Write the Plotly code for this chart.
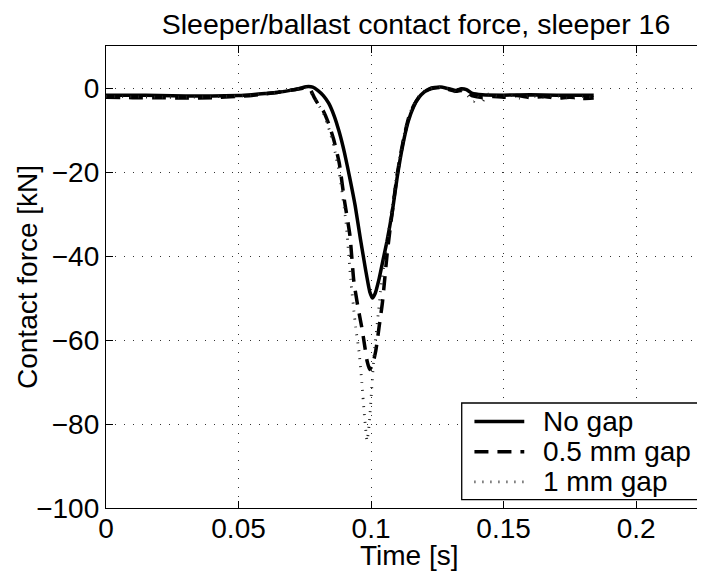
import plotly.graph_objects as go

# ---- data ----
t_nogap = [0, 0.01, 0.02, 0.03, 0.04, 0.05, 0.055, 0.06, 0.065, 0.07, 0.073, 0.0755, 0.078,
           0.080, 0.082, 0.084, 0.086, 0.088, 0.090, 0.092, 0.094, 0.096, 0.098, 0.0995,
           0.1005, 0.1015, 0.103, 0.1045, 0.106, 0.108, 0.1098, 0.112, 0.114, 0.116, 0.118,
           0.120, 0.122, 0.124, 0.127, 0.130, 0.132, 0.134, 0.136, 0.138, 0.142, 0.15, 0.16,
           0.17, 0.18, 0.184]
f_nogap = [-1.7, -1.7, -1.8, -1.9, -1.9, -1.8, -1.6, -1.3, -1.0, -0.5, -0.1, 0.3, 0.2,
           -0.6, -1.8, -3.6, -6.5, -10.5, -15.5, -21.5, -28, -36, -43.5, -48.5,
           -50, -49, -45.5, -41, -36.5, -29.5, -21.5, -13.5, -8, -4.5, -2.3,
           -1.0, -0.2, 0.1, 0.2, -0.3, -0.6, -0.2, -0.4, -1.2, -1.6, -1.7, -1.6,
           -1.7, -1.7, -1.7]

t_gap05 = [0, 0.01, 0.02, 0.03, 0.04, 0.05, 0.055, 0.06, 0.065, 0.07, 0.073, 0.0755, 0.077,
           0.0786, 0.080, 0.082, 0.084, 0.086, 0.088, 0.090, 0.092, 0.0935, 0.095, 0.0965,
           0.0975, 0.0985, 0.0995, 0.1005, 0.1018, 0.103, 0.1043, 0.1061, 0.108, 0.110,
           0.112, 0.114, 0.116, 0.118, 0.120, 0.122, 0.124, 0.127, 0.130, 0.132, 0.135,
           0.138, 0.142, 0.146, 0.15, 0.155, 0.16, 0.165, 0.17, 0.175, 0.18, 0.184]
f_gap05 = [-2.2, -2.3, -2.3, -2.4, -2.3, -2.0, -1.8, -1.4, -1.0, -0.5, -0.2, 0.1, -0.3,
           -2.3, -3.8, -5.5, -8.5, -12.5, -17.9, -27, -35, -46, -52, -57,
           -61, -65, -67, -66, -62.5, -57, -51, -39.3, -29.4, -20,
           -13, -7.5, -4.3, -2.2, -1.0, -0.3, 0.0, 0.1, -0.5, -0.8, -0.5,
           -1.8, -2.3, -2.0, -2.2, -1.8, -2.3, -2.0, -2.4, -2.2, -2.5, -2.4]

t_gap1 = [0, 0.01, 0.02, 0.03, 0.04, 0.05, 0.055, 0.06, 0.065, 0.07, 0.073, 0.0755, 0.077,
          0.078, 0.080, 0.082, 0.084, 0.086, 0.088, 0.0905, 0.0923, 0.0942, 0.0955, 0.0965,
          0.0975, 0.0985, 0.0993, 0.1002, 0.1012, 0.1025, 0.104, 0.106, 0.108, 0.110,
          0.112, 0.114, 0.116, 0.118, 0.120, 0.122, 0.124, 0.127, 0.130, 0.132, 0.134,
          0.136, 0.1387, 0.140, 0.142, 0.144, 0.148, 0.152, 0.156, 0.16, 0.165, 0.17,
          0.175, 0.18, 0.184]
f_gap1 = [-2.0, -2.1, -2.2, -2.2, -2.1, -1.9, -1.7, -1.4, -1.0, -0.5, -0.2, 0.0, -0.6,
          -1.8, -3.8, -6, -9.5, -14, -20.2, -31.7, -45.5, -57, -63, -70,
          -78, -84, -80, -72, -63, -55, -46, -37, -28, -19.5,
          -12.5, -7.2, -4.0, -2.0, -0.8, -0.1, 0.2, 0.2, -0.4, -1.0, -0.6,
          -1.5, -3.2, -1.8, -3.2, -1.5, -2.0, -1.6, -2.4, -1.8, -2.3, -1.8,
          -2.5, -2.0, -2.2]

series_names = ["No gap", "0.5 mm gap", "1 mm gap"]
x_ticks = [0, 0.05, 0.1, 0.15, 0.2]
x_ticktext = ["0", "0.05", "0.1", "0.15", "0.2"]
y_ticks = [0, -20, -40, -60, -80, -100]
y_ticktext = ["0", "\u221220", "\u221240", "\u221260", "\u221280", "\u2212100"]

FONT = "Liberation Sans, Arial, Helvetica, sans-serif"
FS = 28
LINE_STYLES = [
    dict(color="black", width=3.5, dash="solid"),
    dict(color="black", width=3.5, dash="14px,9px"),
    dict(color="#222222", width=2.8, dash="1px,7px"),
]

fig = go.Figure()
for (tx, fy), name, st in zip([(t_nogap, f_nogap), (t_gap05, f_gap05), (t_gap1, f_gap1)],
                              series_names, LINE_STYLES):
    fig.add_trace(go.Scatter(x=tx, y=fy, mode="lines", name=name, showlegend=False,
                             line=dict(shape="spline", smoothing=0.5, **st)))

axis_common = dict(
    showline=True, linecolor="black", linewidth=1.3,
    ticks="inside", ticklen=7, tickcolor="black", tickwidth=1,
    showgrid=True, gridcolor="#333333", gridwidth=1, griddash="1px,8px",
    zeroline=False, automargin=False,
    tickfont=dict(family=FONT, size=FS, color="black"),
)

fig.update_xaxes(range=[0, 0.229], tickvals=x_ticks, ticktext=x_ticktext,
                 mirror="ticks", ticklabelstandoff=-5, **axis_common)
fig.update_yaxes(range=[-100, 10], tickvals=y_ticks, ticktext=y_ticktext,
                 mirror=False, **axis_common)

# ---- legend box drawn in data coordinates (bottom-right, clipped at the plot edge) ----
leg_x0, leg_x1 = 0.1342, 0.2450
leg_y0, leg_y1 = -98.0, -75.0
leg_rows = [-79.4, -86.6, -93.8]
samp_x0, samp_x1, text_x = 0.1390, 0.1578, 0.1640

fig.add_shape(type="rect", xref="x", yref="y", x0=leg_x0, x1=leg_x1, y0=leg_y0, y1=leg_y1,
              line=dict(color="black", width=1.3), fillcolor="white", layer="above")
for yy, name, st in zip(leg_rows, series_names, LINE_STYLES):
    fig.add_shape(type="line", xref="x", yref="y", x0=samp_x0, x1=samp_x1, y0=yy, y1=yy,
                  line=st, layer="above")
    fig.add_annotation(x=text_x, y=yy, xref="x", yref="y", text=name, showarrow=False,
                       xanchor="left", yanchor="middle",
                       font=dict(family=FONT, size=FS, color="black"))

# axis titles
fig.add_annotation(x=0.5, y=0, xref="paper", yref="paper", text="Time [s]", showarrow=False,
                   xanchor="center", yanchor="middle", yshift=-47,
                   font=dict(family=FONT, size=FS, color="black"))
fig.add_annotation(x=0, y=0.5, xref="paper", yref="paper", text="Contact force [kN]",
                   showarrow=False, textangle=-90, xanchor="center", yanchor="middle",
                   xshift=-79, font=dict(family=FONT, size=FS, color="black"))

fig.update_layout(
    width=705, height=576,
    margin=dict(l=98, r=0, t=38, b=76),
    paper_bgcolor="white", plot_bgcolor="white",
    font=dict(family=FONT, size=FS, color="black"),
    title=dict(text="Sleeper/ballast contact force, sleeper 16",
               font=dict(family=FONT, size=28.5, color="black"),
               x=408 / 705, xanchor="center", xref="container",
               y=1 - 16 / 576, yanchor="middle", yref="container"),
    showlegend=False,
)

fig.write_html("out.html")
